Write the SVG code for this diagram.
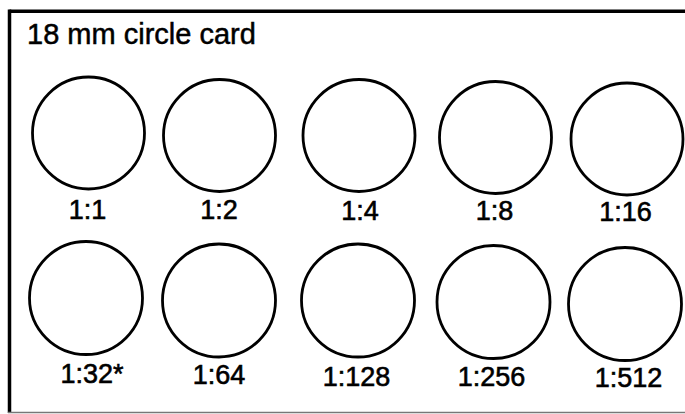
<svg xmlns="http://www.w3.org/2000/svg" width="685" height="414" viewBox="0 0 685 414">
<style>
.c{fill:none;stroke:#000;stroke-width:2.8}
.t{font-family:"Liberation Sans",Arial,sans-serif;font-size:27px;fill:#000;stroke:#000;stroke-width:0.6;text-anchor:middle}
.title{font-family:"Liberation Sans",Arial,sans-serif;font-size:29px;fill:#000;stroke:#000;stroke-width:0.5}
</style>
<rect width="685" height="414" fill="#fff"/>
<g id="frame">
<line x1="9.5" y1="11.2" x2="685" y2="11.2" stroke="#000" stroke-width="3.5"/>
<line x1="9.5" y1="9.5" x2="9.5" y2="413" stroke="#000" stroke-width="3.5"/>
<line x1="8" y1="412.5" x2="685" y2="412.5" stroke="#777" stroke-width="1.5"/>
</g>
<g id="title"><text class="title" x="27" y="44">18 mm circle card</text></g>
<g id="c1"><circle class="c" cx="88.5" cy="133" r="56"/><text class="t" x="87.5" y="219">1:1</text></g>
<g id="c2"><circle class="c" cx="219.5" cy="135.5" r="56"/><text class="t" x="219" y="219">1:2</text></g>
<g id="c4"><circle class="c" cx="359" cy="135.5" r="56"/><text class="t" x="360" y="220">1:4</text></g>
<g id="c8"><circle class="c" cx="495.5" cy="137.5" r="56"/><text class="t" x="494.5" y="220">1:8</text></g>
<g id="c16"><circle class="c" cx="627" cy="139" r="56"/><text class="t" x="625.5" y="221">1:16</text></g>
<g id="c32"><circle class="c" cx="86" cy="298" r="56.5"/><text class="t" x="92" y="383">1:32*</text></g>
<g id="c64"><circle class="c" cx="219" cy="300.5" r="56.5"/><text class="t" x="219" y="384">1:64</text></g>
<g id="c128"><circle class="c" cx="358" cy="300.5" r="56.5"/><text class="t" x="356.5" y="386">1:128</text></g>
<g id="c256"><circle class="c" cx="493.5" cy="302" r="56.5"/><text class="t" x="491.5" y="386">1:256</text></g>
<g id="c512"><circle class="c" cx="625" cy="304" r="56.5"/><text class="t" x="628.5" y="387">1:512</text></g>
</svg>
